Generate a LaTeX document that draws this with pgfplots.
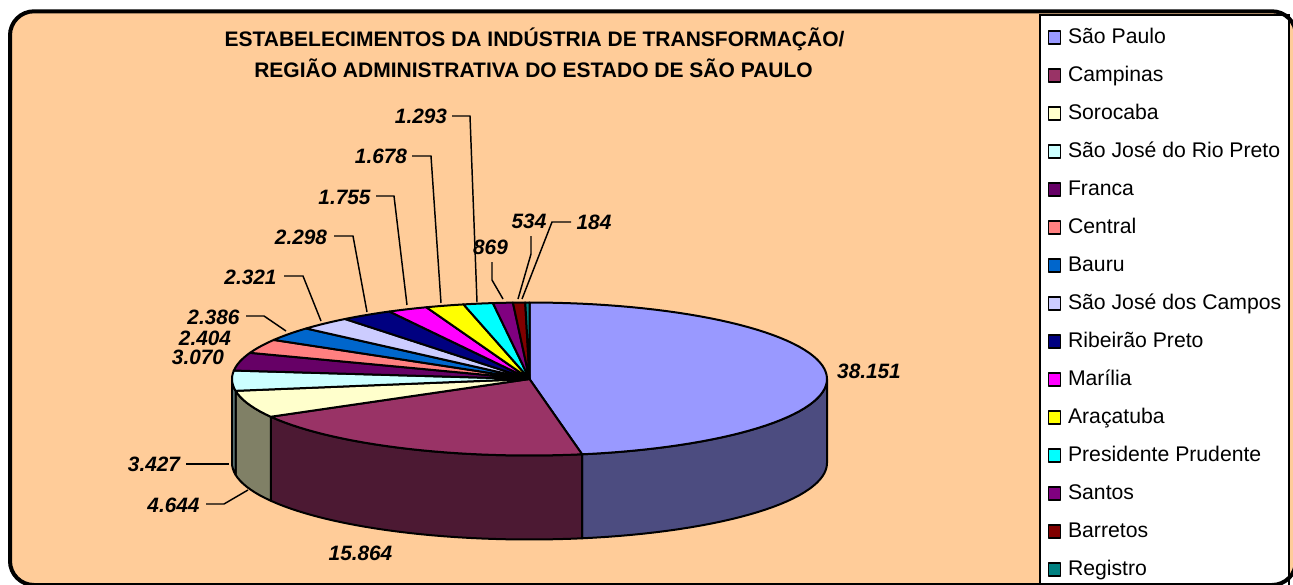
\documentclass[border=0pt]{standalone}
\usepackage{fontspec}
\setmainfont{Liberation Sans}
\usepackage{pgfplots}
\usepackage{pgfplotstable}
\pgfplotsset{compat=1.18}
% values in thousands (the chart writes 38.151 for 38151)
\pgfplotstableread[col sep=comma]{
name,value
São Paulo,38.151
Campinas,15.864
Sorocaba,4.644
São José do Rio Preto,3.427
Franca,3.070
Central,2.404
Bauru,2.386
São José dos Campos,2.321
Ribeirão Preto,2.298
Marília,1.755
Araçatuba,1.678
Presidente Prudente,1.293
Santos,0.869
Barretos,0.534
Registro,0.184
}\datatab
\definecolor{sp0}{HTML}{9999FF}
\definecolor{sp1}{HTML}{993366}
\definecolor{sp2}{HTML}{FFFFCC}
\definecolor{sp3}{HTML}{CCFFFF}
\definecolor{sp4}{HTML}{660066}
\definecolor{sp5}{HTML}{FF8080}
\definecolor{sp6}{HTML}{0066CC}
\definecolor{sp7}{HTML}{CCCCFF}
\definecolor{sp8}{HTML}{000080}
\definecolor{sp9}{HTML}{FF00FF}
\definecolor{sp10}{HTML}{FFFF00}
\definecolor{sp11}{HTML}{00FFFF}
\definecolor{sp12}{HTML}{800080}
\definecolor{sp13}{HTML}{800000}
\definecolor{sp14}{HTML}{008080}
\definecolor{bgc}{HTML}{FFCC99}
\def\total{80.878}
\def\cx{529.5}\def\cy{379}\def\rx{297.5}\def\ry{76.5}\def\dep{84}
% append an elliptical arc to \pts: from angle #1 to angle #2 (clockwise from top), y shift #3
\newcommand\arcpts[3]{%
  \pgfmathsetmacro\nst{int(max(1,ceil(abs(#2-#1)/2.5)))}%
  \foreach \k in {0,...,\nst}{%
    \pgfmathsetmacro\th{#1+(#2-#1)*\k/\nst}%
    \pgfmathsetmacro\px{\cx+\rx*sin(\th)}%
    \pgfmathsetmacro\py{\cy-\ry*cos(\th)+#3}%
    \xdef\pts{\pts (\px,\py)}%
  }%
}
\newcommand\lab[3]{\node[inner sep=0pt,font=\fontsize{15.6pt}{18pt}\selectfont\bfseries\itshape] at (axis cs:#1,#2) {#3};}
\begin{document}
\begin{tikzpicture}
\useasboundingbox (0,0) rectangle (969.75pt,438.75pt);
\begin{axis}[
  at={(0,0)},anchor=south west,
  scale only axis,width=969.75pt,height=438.75pt,
  xmin=0,xmax=1293,ymin=0,ymax=585,y dir=reverse,
  hide axis,
  legend image code/.code={\draw[#1,line width=1.1pt] (0pt,-0.2pt) rectangle (9.3pt,9.6pt);},
  legend cell align=left,
  legend style={at={(axis cs:1047.5,17)},anchor=north west,draw=none,fill=none,
    inner sep=0pt,outer sep=0pt,row sep=0pt,column sep=5pt,
    nodes={inner sep=0pt,text height=20pt,text depth=8.5pt,anchor=base west,
      font=\fontsize{15.9pt}{18pt}\selectfont}},
]
% chart area and legend panel
\fill[bgc,rounded corners=18pt] (axis cs:10,11.3) rectangle (axis cs:1296,585);
\fill[white,draw=black,line width=1.5pt] (axis cs:1040,15) rectangle (axis cs:1289,590);
\draw[black,line width=3pt,rounded corners=18pt] (axis cs:10,11.3) rectangle (axis cs:1296,585);
% slices
\gdef\cum{0}
\pgfplotsforeachungrouped \idx in {0,1,...,14}{%
  \pgfplotstablegetelem{\idx}{value}\of\datatab
  \pgfmathsetmacro\val{\pgfplotsretval}%
  \pgfplotstablegetelem{\idx}{name}\of\datatab
  \edef\nm{\pgfplotsretval}%
  \pgfmathsetmacro\aa{\cum/\total*360}%
  \pgfmathsetmacro\newcum{\cum+\val}%
  \pgfmathsetmacro\bb{\newcum/\total*360}%
  \xdef\cum{\newcum}%
  % visible part of the side wall
  \pgfmathsetmacro\sa{max(\aa,90)}%
  \pgfmathsetmacro\sb{min(\bb,270)}%
  \pgfmathparse{\sb>\sa ? 1 : 0}%
  \ifdim\pgfmathresult pt>0.5pt
    \gdef\pts{}%
    \arcpts{\sa}{\sb}{0}%
    \arcpts{\sb}{\sa}{\dep}%
    \edef\tmp{\noexpand\addplot[forget plot,mark=none,draw=black,line width=1.5pt,line join=round,fill=sp\idx!50!black] coordinates {\pts} --cycle;}%
    \tmp
  \fi
  % top face
  \xdef\pts{(\cx,\cy)}%
  \arcpts{\aa}{\bb}{0}%
  \edef\tmp{\noexpand\addplot[mark=none,draw=black,line width=1.5pt,line join=round,fill=sp\idx] coordinates {\pts} --cycle;\noexpand\addlegendentry{\nm}}%
  \tmp
}
% data labels
\lab{869}{371}{38.151}
\lab{360.5}{553}{15.864}
\lab{173.5}{505}{4.644}
\lab{154}{464}{3.427}
\lab{198}{357}{3.070}
\lab{205}{338}{2.404}
\lab{213.5}{317}{2.386}
\lab{250.5}{277}{2.321}
\lab{301}{237}{2.298}
\lab{344.5}{197}{1.755}
\lab{381}{156}{1.678}
\lab{421}{116}{1.293}
\lab{490.5}{247}{869}
\lab{529}{221}{534}
\lab{594}{222}{184}
% leader lines
\begin{scope}[line width=1.1pt,black]
\draw (axis cs:186,464) -- (axis cs:229,464);
\draw (axis cs:206,504) -- (axis cs:224,504) -- (axis cs:248,490);
\draw (axis cs:246,316) -- (axis cs:264,316) -- (axis cs:286,331);
\draw (axis cs:284,276) -- (axis cs:303,276) -- (axis cs:321,321);
\draw (axis cs:334,236) -- (axis cs:353,236) -- (axis cs:367,312);
\draw (axis cs:376,196) -- (axis cs:394,196) -- (axis cs:407,305);
\draw (axis cs:412,156) -- (axis cs:431,156) -- (axis cs:441,303);
\draw (axis cs:452,116) -- (axis cs:470,116) -- (axis cs:477,302);
\draw (axis cs:492,262) -- (axis cs:492,280) -- (axis cs:503,299);
\draw (axis cs:531,236) -- (axis cs:531,254) -- (axis cs:518,299);
\draw (axis cs:571,222) -- (axis cs:552,222) -- (axis cs:522,299);
\end{scope}
% title
\node[anchor=base,inner sep=0pt,font=\fontsize{15.75pt}{18pt}\selectfont\bfseries] at (axis cs:534.5,46.5) {ESTABELECIMENTOS DA INDÚSTRIA DE TRANSFORMAÇÃO/};
\node[anchor=base,inner sep=0pt,font=\fontsize{15.75pt}{18pt}\selectfont\bfseries] at (axis cs:533.5,78) {REGIÃO ADMINISTRATIVA DO ESTADO DE SÃO PAULO};
\end{axis}
\end{tikzpicture}
\end{document}
